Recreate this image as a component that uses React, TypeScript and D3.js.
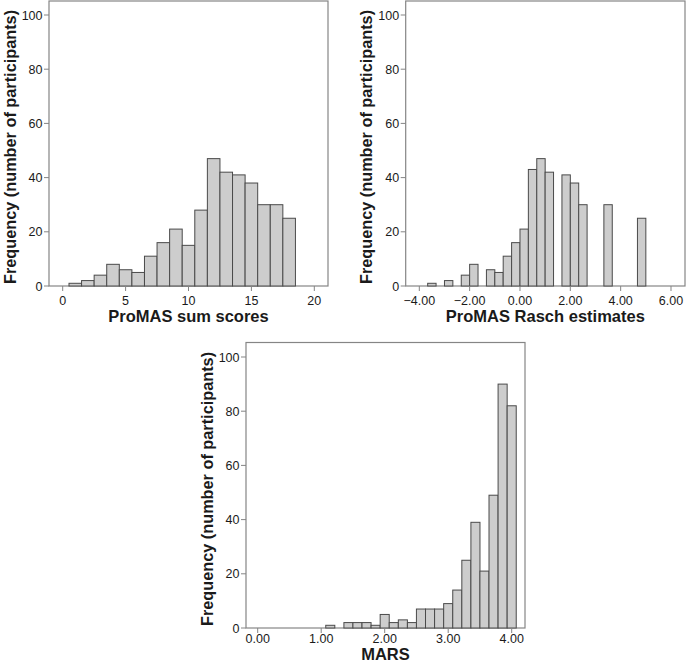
import React from "react";
import * as d3 from "d3";

// ---- Data ----
const sumScoreCenters = [1, 2, 3, 4, 5, 6, 7, 8, 9, 10, 11, 12, 13, 14, 15, 16, 17, 18];
const sumScoreFreq = [1, 2, 4, 8, 6, 5, 11, 16, 21, 15, 28, 47, 42, 41, 38, 30, 30, 25];
const sumScoreTicks = [0, 5, 10, 15, 20];

const raschBinStart = [-3.667, -3.0, -2.333, -2.0, -1.333, -1.0, -0.667, -0.333, 0.0, 0.333, 0.667, 1.0, 1.667, 2.0, 2.333, 3.333, 4.667];
const raschFreq = [1, 2, 4, 8, 6, 5, 11, 16, 21, 43, 47, 42, 41, 38, 30, 30, 25];
const raschTicks = [-4, -2, 0, 2, 4, 6];

const marsCenters = [1.143, 1.429, 1.571, 1.714, 1.857, 2.0, 2.143, 2.286, 2.429, 2.571, 2.714, 2.857, 3.0, 3.143, 3.286, 3.429, 3.571, 3.714, 3.857, 4.0];
const marsFreq = [1, 2, 2, 2, 1, 5, 2, 3, 2, 7, 7, 7, 9, 14, 25, 39, 21, 49, 90, 82];
const marsTicks = [0, 1, 2, 3, 4];

const yTicks = [0, 20, 40, 60, 80, 100];
const yTitle = "Frequency (number of participants)";

const FONT = "'Liberation Sans', Arial, Helvetica, sans-serif";
const FRAME = "#858585";
const TEXT = "#1a1a1a";

type Bin = { x0: number; x1: number; n: number };

type HistProps = {
  bins: Bin[];
  ticks: number[];
  fmt: (v: number) => string;
  xRange: [number, number];
  frame: { left: number; right: number; top: number; bottom: number };
  y100: number;
  labelOff: number;
  titleOff: number;
  title: string;
};

function Histogram({ bins, ticks, fmt, xRange, frame, y100, labelOff, titleOff, title }: HistProps) {
  const x = d3.scaleLinear().domain([ticks[0], ticks[ticks.length - 1]]).range(xRange);
  const y = d3.scaleLinear().domain([0, 100]).range([frame.bottom, y100]);
  const { left, right, top, bottom } = frame;
  return (
    <g>
      <rect x={left} y={top} width={right - left} height={bottom - top} fill="none" stroke={FRAME} strokeWidth={1.2} />
      {bins.map((b, i) => (
        <rect
          key={i}
          x={x(b.x0)}
          y={y(b.n)}
          width={x(b.x1) - x(b.x0)}
          height={y(0) - y(b.n)}
          fill="#cdcdcd"
          stroke="#4a4a4a"
          strokeWidth={1}
        />
      ))}
      {yTicks.map((t) => (
        <g key={"y" + t}>
          <line x1={left - 5} x2={left} y1={y(t)} y2={y(t)} stroke={FRAME} strokeWidth={1} />
          <text x={left - 6.5} y={y(t)} dy="0.36em" textAnchor="end" fontSize={12.5} fill={TEXT} fontFamily={FONT}>
            {t}
          </text>
        </g>
      ))}
      {ticks.map((t) => (
        <g key={"x" + t}>
          <line x1={x(t)} x2={x(t)} y1={bottom} y2={bottom + 5} stroke={FRAME} strokeWidth={1} />
          <text x={x(t)} y={bottom + labelOff} textAnchor="middle" fontSize={12.5} fill={TEXT} fontFamily={FONT}>
            {fmt(t)}
          </text>
        </g>
      ))}
      <text
        x={(left + right) / 2}
        y={bottom + titleOff}
        textAnchor="middle"
        fontSize={16.5}
        fontWeight="bold"
        fill={TEXT}
        fontFamily={FONT}
      >
        {title}
      </text>
      <text
        transform={`translate(${left - 33.5},${bottom - 139}) rotate(-90)`}
        textAnchor="middle"
        fontSize={16.3}
        fontWeight="bold"
        fill={TEXT}
        fontFamily={FONT}
      >
        {yTitle}
      </text>
    </g>
  );
}

export default function App() {
  const sumBins: Bin[] = sumScoreCenters.map((c, i) => ({ x0: c - 0.5, x1: c + 0.5, n: sumScoreFreq[i] }));
  const raschBins: Bin[] = raschBinStart.map((s, i) => ({ x0: s, x1: s + 0.3333, n: raschFreq[i] }));
  const marsBins: Bin[] = marsCenters.map((c, i) => ({ x0: c - 0.0714, x1: c + 0.0714, n: marsFreq[i] }));
  const fmt2 = (v: number) => (v < 0 ? "\u2212" + Math.abs(v).toFixed(2) : v.toFixed(2));
  return (
    <svg width={686} height={662} style={{ position: "absolute", left: 0, top: 0, background: "#fff" }}>
      <Histogram
        bins={sumBins}
        ticks={sumScoreTicks}
        fmt={(v) => String(v)}
        xRange={[62.7, 314.3]}
        frame={{ left: 49, right: 328, top: 1, bottom: 286 }}
        y100={15}
        labelOff={19}
        titleOff={36}
        title="ProMAS sum scores"
      />
      <Histogram
        bins={raschBins}
        ticks={raschTicks}
        fmt={fmt2}
        xRange={[419.3, 671]}
        frame={{ left: 405.7, right: 685, top: 1, bottom: 286 }}
        y100={15}
        labelOff={19}
        titleOff={36}
        title="ProMAS Rasch estimates"
      />
      <Histogram
        bins={marsBins}
        ticks={marsTicks}
        fmt={fmt2}
        xRange={[257.7, 511.7]}
        frame={{ left: 246, right: 525, top: 342.5, bottom: 628 }}
        y100={357}
        labelOff={14.5}
        titleOff={31.5}
        title="MARS"
      />
    </svg>
  );
}
